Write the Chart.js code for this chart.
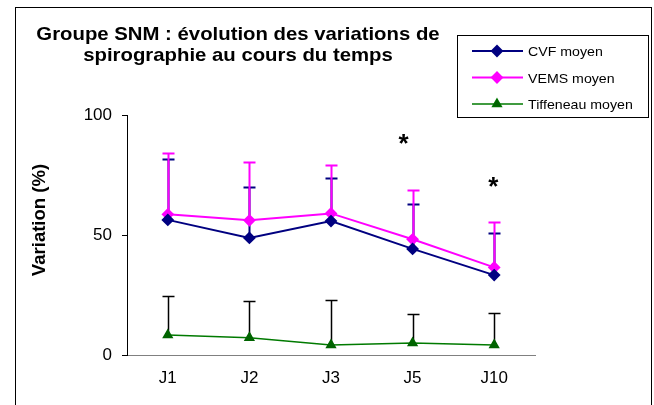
<!DOCTYPE html>
<html>
<head>
<meta charset="utf-8">
<script src="https://cdn.jsdelivr.net/npm/chart.js@4.4.0/dist/chart.umd.min.js"></script>
<style>
  html, body { margin: 0; padding: 0; background: #fff; }
  #wrap { width: 654px; height: 405px; }
</style>
</head>
<body>
<div id="wrap"><canvas id="spiroChart" width="654" height="405"></canvas></div>
<script>
// données
const categories = ["J1", "J2", "J3", "J5", "J10"];
const cvfMoyen = [56.3, 48.8, 55.8, 44.2, 33.3];
const cvfHaut = [81.5, 70, 73.8, 63, 50.8];
const vemsMoyen = [58.6, 56.1, 59, 48.2, 36.5];
const vemsHaut = [84, 80.4, 79.2, 68.9, 55.3];
const tiffMoyen = [8.3, 7.2, 4.2, 5, 4.2];
const tiffHaut = [24.6, 22.4, 22.9, 17.1, 17.4];
const yTicks = [0, 50, 100];
// étoiles : position sur l'axe des catégories (index) et valeur
const etoilesX = [2.89, 3.99];
const etoilesVal = [91, 73];

const titre = ["Groupe SNM : évolution des variations de", "spirographie au cours du temps"];

// texte un peu élargi comme dans l'original
function drawText(ctx, txt, x, y, font, align, sx) {
  ctx.save();
  ctx.font = font;
  ctx.fillStyle = "#000";
  ctx.textAlign = align || "left";
  ctx.textBaseline = "alphabetic";
  ctx.translate(x, y);
  ctx.scale(sx || 1, 1);
  ctx.fillText(txt, 0, 0);
  ctx.restore();
}

const errorBars = {
  id: "errorBars",
  beforeDatasetsDraw(chart) {
    const ctx = chart.ctx;
    const x = chart.scales.x, y = chart.scales.y;
    const sets = [
      { mean: cvfMoyen, high: cvfHaut, color: "#000080", w: 2 },
      { mean: vemsMoyen, high: vemsHaut, color: "#FF00FF", w: 2 },
      { mean: tiffMoyen, high: tiffHaut, color: "#000000", w: 1.5 },
    ];
    ctx.save();
    sets.forEach(s => {
      ctx.strokeStyle = s.color;
      ctx.lineWidth = s.w;
      s.mean.forEach((m, i) => {
        const px = Math.round(x.getPixelForValue(i)) + 0.5;
        const y0 = y.getPixelForValue(m);
        const y1 = Math.round(y.getPixelForValue(s.high[i])) + 0.5;
        ctx.beginPath();
        ctx.moveTo(px, y0);
        ctx.lineTo(px, y1);
        ctx.moveTo(px - 6, y1);
        ctx.lineTo(px + 6, y1);
        ctx.stroke();
      });
    });
    ctx.restore();
  }
};

const decor = {
  id: "decor",
  afterDraw(chart) {
    const ctx = chart.ctx;
    const x = chart.scales.x, y = chart.scales.y;

    // cadre extérieur
    ctx.save();
    ctx.strokeStyle = "#000";
    ctx.lineWidth = 1;
    ctx.strokeRect(15.5, 7.5, 636, 420);
    ctx.restore();

    // titre
    drawText(ctx, titre[0], 238, 40, "bold 19px Arial, 'Liberation Sans'", "center", 1.07);
    drawText(ctx, titre[1], 238, 61, "bold 19px Arial, 'Liberation Sans'", "center", 1.07);

    // titre axe y
    ctx.save();
    ctx.translate(45, 220);
    ctx.rotate(-Math.PI / 2);
    drawText(ctx, "Variation (%)", 0, 0, "bold 18px Arial, 'Liberation Sans'", "center", 1.03);
    ctx.restore();

    // étoiles
    etoilesX.forEach((v, i) => {
      const px = x.getPixelForValue(v);
      const py = y.getPixelForValue(etoilesVal[i]);
      drawText(ctx, "*", px, py + 15, "bold 26px Arial, 'Liberation Sans'", "center", 1);
    });

    // légende
    ctx.save();
    ctx.fillStyle = "#fff";
    ctx.fillRect(457.5, 35.5, 191, 82);
    ctx.strokeStyle = "#000";
    ctx.lineWidth = 1;
    ctx.strokeRect(457.5, 35.5, 191, 82);
    ctx.restore();
    chart.data.datasets.forEach((ds, i) => {
      const ly = 51 + i * 26.5;
      ctx.save();
      ctx.strokeStyle = ds.borderColor;
      ctx.lineWidth = ds.borderWidth;
      ctx.beginPath();
      ctx.moveTo(472, ly);
      ctx.lineTo(523, ly);
      ctx.stroke();
      Chart.helpers.drawPoint(ctx, {
        pointStyle: ds.pointStyle, radius: ds.pointRadius, rotation: 0, borderWidth: 1
      }, 497, ly);
      ctx.fillStyle = ds.pointBackgroundColor;
      ctx.strokeStyle = ds.pointBorderColor;
      ctx.fill();
      ctx.restore();
      drawText(ctx, ds.label, 528, ly + 5, "13px Arial, 'Liberation Sans'", "left", 1.09);
    });
  }
};

new Chart(document.getElementById("spiroChart"), {
  type: "line",
  data: {
    labels: categories,
    datasets: [
      {
        label: "CVF moyen", data: cvfMoyen,
        borderColor: "#000080", borderWidth: 2,
        pointStyle: "rectRot", pointRadius: 5,
        pointBackgroundColor: "#000080", pointBorderColor: "#000080",
      },
      {
        label: "VEMS moyen", data: vemsMoyen,
        borderColor: "#FF00FF", borderWidth: 2,
        pointStyle: "rectRot", pointRadius: 5,
        pointBackgroundColor: "#FF00FF", pointBorderColor: "#FF00FF",
      },
      {
        label: "Tiffeneau moyen", data: tiffMoyen,
        borderColor: "#007a00", borderWidth: 1.5,
        pointStyle: "triangle", pointRadius: 5,
        pointBackgroundColor: "#006400", pointBorderColor: "#006400",
      },
    ],
  },
  options: {
    responsive: false,
    animation: false,
    layout: { padding: { top: 115, right: 119, left: 0, bottom: 0 } },
    plugins: {
      legend: { display: false },
      title: { display: false },
      tooltip: { enabled: false },
    },
    scales: {
      x: {
        offset: true,
        afterFit: s => { s.height = 50; },
        grid: { display: true, drawOnChartArea: false, drawTicks: false },
        border: { color: "#808080", width: 1 },
        ticks: { color: "#000", padding: 13, font: { family: "Arial, 'Liberation Sans'", size: 17 } },
      },
      y: {
        min: 0, max: 100,
        afterFit: s => { s.width = 127; },
        afterBuildTicks: s => { s.ticks = yTicks.map(v => ({ value: v })); },
        grid: { drawOnChartArea: false, tickLength: 5, color: "#000" },
        border: { color: "#000", width: 1 },
        ticks: { color: "#000", padding: 10, font: { family: "Arial, 'Liberation Sans'", size: 17 } },
      },
    },
  },
  plugins: [errorBars, decor],
});
</script>
</body>
</html>
